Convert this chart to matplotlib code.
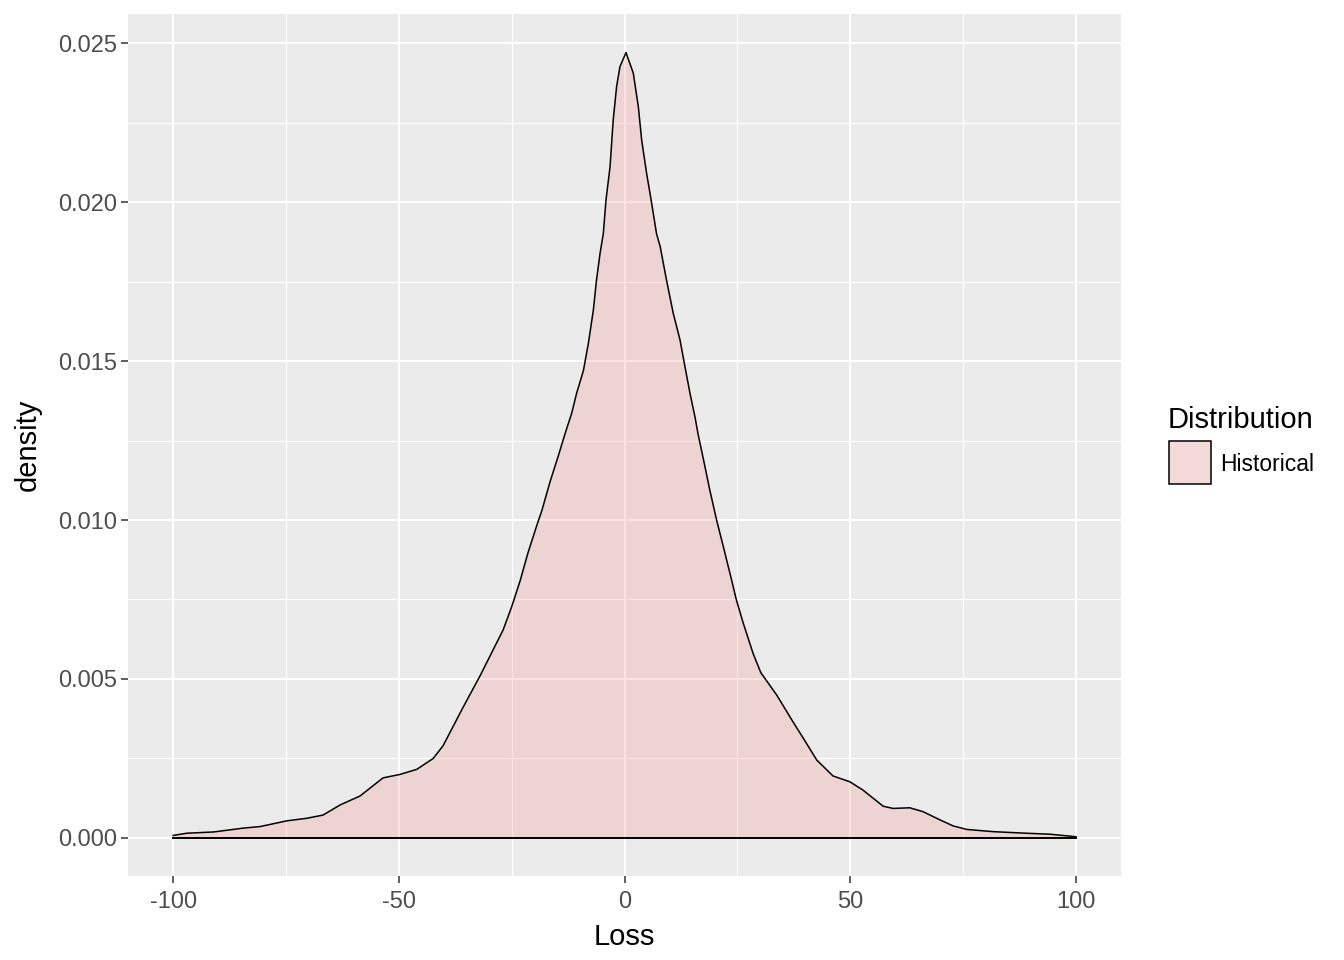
import numpy as np
import matplotlib.pyplot as plt
from matplotlib.patches import Rectangle

plt.rcParams['font.family'] = ['Liberation Sans', 'DejaVu Sans']

# === Densidade ===
loss = [-100, -97, -91, -84.5, -80.7, -74.8, -70.4, -66.8, -63, -58.6, -53.5, -49.7,
        -46, -42.4, -40.2, -38, -35.8, -32, -26.9, -25, -23.1, -21.4, -19.5, -18.3,
        -16.5, -14.7, -13.2, -11.7, -10.6, -9.1, -8, -6.9, -6.2, -5.4, -4.7, -4.1,
        -3.2, -2.5, -1.75, -1, 0.33, 1.95, 3.06, 3.8, 4.9, 5.9, 7.1, 7.9, 9.3, 10.8,
        12.3, 13.4, 14.5, 15.6, 16.3, 17.5, 18.9, 20.4, 21.9, 23.4, 24.8, 26.3, 28.5,
        30.2, 33.7, 37.3, 39.6, 42.6, 46.2, 49.9, 52.8, 57.3, 59.5, 63.2, 66.1, 69.9,
        72.8, 75.8, 81.6, 89, 94.2, 100]
density = [0.00008, 0.00015, 0.00019, 0.00031, 0.00036, 0.00054, 0.00062, 0.00072,
           0.00104, 0.00132, 0.00189, 0.0020, 0.00216, 0.0025, 0.0029, 0.0035, 0.0041,
           0.0051, 0.00654, 0.00727, 0.0081, 0.00896, 0.0098, 0.0103, 0.0112, 0.0120,
           0.0127, 0.01336, 0.01399, 0.0147, 0.01556, 0.0166, 0.01755, 0.0184, 0.019,
           0.02006, 0.02111, 0.02258, 0.02363, 0.02426, 0.0247, 0.02405, 0.023,
           0.02195, 0.0209, 0.02006, 0.019, 0.0186, 0.01755, 0.0165, 0.01566, 0.01482,
           0.01399, 0.01325, 0.0127, 0.0119, 0.01094, 0.0100, 0.00916, 0.0083, 0.00748,
           0.00676, 0.0058, 0.0052, 0.0045, 0.00366, 0.00314, 0.00245, 0.00195,
           0.00177, 0.00151, 0.0010, 0.00093, 0.00095, 0.00083, 0.00057, 0.00038,
           0.00027, 0.0002, 0.00015, 0.00012, 0.00004]

x_ticks = [-100, -50, 0, 50, 100]
y_ticks = [0.000, 0.005, 0.010, 0.015, 0.020, 0.025]

fill_col = '#F8766D'
grid_bg = '#EBEBEB'

# === Plot ===
fig = plt.figure(figsize=(13.44, 9.6), dpi=100)
ax = fig.add_axes([128/1344, 1 - 876/960, (1121-128)/1344, (876-14)/960])
ax.set_facecolor(grid_bg)

ax.set_xlim(-110, 110)
ax.set_ylim(-0.001195, 0.025912)

ax.set_xticks(x_ticks)
ax.set_xticklabels([str(v) for v in x_ticks])
ax.set_yticks(y_ticks)
ax.set_yticklabels(['%.3f' % v for v in y_ticks])
ax.set_xticks([-75, -25, 25, 75], minor=True)
ax.set_yticks([0.0025, 0.0075, 0.0125, 0.0175, 0.0225], minor=True)
ax.grid(True, which='major', color='white', linewidth=1.5)
ax.grid(True, which='minor', color='white', linewidth=0.8)
ax.set_axisbelow(True)
ax.tick_params(which='minor', length=0)
ax.tick_params(which='major', length=5, width=1.1, color='#333333',
               labelsize=17, labelcolor='#4D4D4D')
ax.tick_params(axis='x', pad=6)
ax.tick_params(axis='y', pad=3)
for s in ax.spines.values():
    s.set_visible(False)

x = np.array(loss)
y = np.array(density)
ax.fill_between(x, 0, y, color=fill_col, alpha=0.2, linewidth=0, zorder=2)
ax.plot(x, y, color='black', linewidth=1.1, zorder=3)
ax.plot([x[0], x[-1]], [0, 0], color='black', linewidth=1.4, zorder=3)

# === Títulos dos eixos ===
fig.text(624.5/1344, 1 - 937/960, 'Loss', fontsize=21, ha='center', va='center')
fig.text(28/1344, 1 - 445/960, 'density', fontsize=21, rotation=90,
         ha='center', va='center')

# === Legenda ===
fig.text(1168/1344, 1 - 420/960, 'Distribution', fontsize=21, va='center', ha='left')
fig.patches.append(Rectangle((1169/1344, 1 - 484/960), 42/1344, 43/960,
                             transform=fig.transFigure, facecolor='#F3D9D7',
                             edgecolor='black', linewidth=1.1))
fig.text(1220/1344, 1 - 464/960, 'Historical', fontsize=16.5, va='center', ha='left')

fig.savefig('out.png', dpi=100)
